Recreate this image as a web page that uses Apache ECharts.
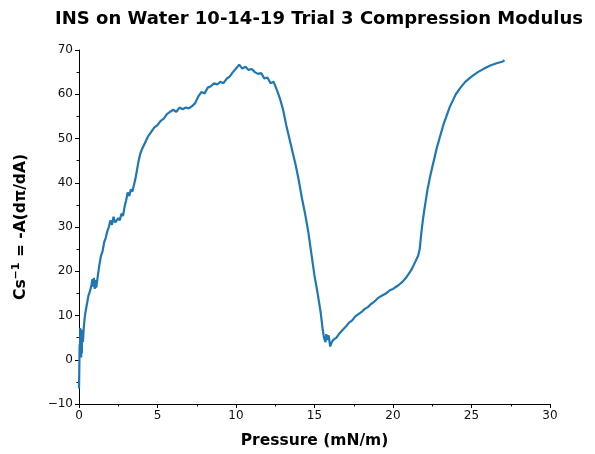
<!DOCTYPE html>
<html>
<head>
<meta charset="utf-8">
<script src="https://cdn.jsdelivr.net/npm/echarts@6/dist/echarts.min.js"></script>
<style>html,body{margin:0;padding:0;background:#fff;}#c{width:595px;height:454px;}</style>
</head>
<body>
<div id="c"></div>
<script>
var pressure = [0,0.02,0.04,0.06,0.08,0.1,0.12,0.14,0.16,0.18,0.2,0.25,0.3,0.35,
0.4,0.5,0.6,0.7,0.8,0.85,0.9,0.95,1.0,1.05,1.1,1.2,1.3,1.4,1.5,1.6,1.7,1.8,1.9,2.0,2.1,2.2,2.3,2.4,2.5,2.6,2.7,2.8,2.9,3.0,3.1,3.2,3.3,3.4,3.5,3.6,3.7,3.8,3.9,4.0,4.2,4.4,4.6,4.8,5.0,5.2,5.4,5.6,5.8,6.0,6.2,6.4,6.6,6.8,7.0,7.2,7.4,7.6,7.8,8.0,8.2,8.4,8.6,8.8,9.0,9.2,9.4,9.6,9.8,10.0,10.2,10.4,10.6,10.8,11.0,11.2,11.4,11.6,11.8,12.0,12.2,12.4,12.6,12.8,13.0,13.2,13.4,13.6,13.8,14.0,14.2,14.4,14.6,14.8,15.0,15.2,15.4,15.5,15.6,15.7,15.75,15.8,15.9,16.0,16.1,16.2,16.4,16.6,16.8,17.0,17.2,17.4,17.6,17.8,18.0,18.2,18.4,18.6,18.8,19.0,19.2,19.4,19.6,19.8,20.0,20.2,20.4,20.6,20.8,21.0,21.2,21.4,21.6,21.7,21.8,21.9,22.0,22.2,22.4,22.6,22.8,23.0,23.2,23.4,23.6,23.8,24.0,24.3,24.6,25.0,25.4,25.8,26.2,26.6,27.0,27.1];
var modulus = [-6.5,-2,3.5,1,7.2,2,6.5,0.5,6.8,1.5,6,4,7,9,
10.5,12.5,14.5,15.5,17,18.2,16.5,18.5,16,18,16.3,19,21.5,23.5,24.5,26.5,27.5,29,30,31.5,30.5,32.3,31,30.8,32,31.5,33,32.5,34.5,36,37.8,37,38.5,38,39.5,41,43,45,46.5,47.5,49,50.5,51.5,52.5,53,54,54.5,55.5,56,56.5,56,57,56.6,57,56.8,57.3,58,59.5,60.5,60.2,61.5,61.8,62.5,62.2,62.8,62.5,63.5,64,65,65.8,66.7,65.8,66.2,65.5,65.7,65,64.6,64.8,63.6,63.8,62.5,62.8,61,59,56.5,53,50,47,44,40.5,36.5,33,29,24,19,15,10.5,7.5,5,4,5.8,4.5,5.5,3,4,4.5,5,6,6.8,7.5,8.4,8.9,9.8,10.3,10.8,11.5,11.9,12.6,13.1,13.8,14.3,14.7,15.1,15.7,16.0,16.5,17.0,17.6,18.4,19.4,20.5,22,23.5,25,28.5,31.5,34,38.5,42,45,48,50.5,53,55,57,58.5,60,61.5,62.8,64,65,65.8,66.5,67,67.4,67.7];
var xTicks = [0,5,10,15,20,25,30];
var yTicks = [-10,0,10,20,30,40,50,60,70];

var data = pressure.map(function(p,i){return [p, modulus[i]];});
var fmt = function(v){ return String(v).replace('-', '\u2212'); };
var chart = echarts.init(document.getElementById('c'), null, {renderer:'canvas'});
chart.setOption({
  animation:false,
  backgroundColor:'#fff',
  title:{text:'INS on Water 10-14-19 Trial 3 Compression Modulus', left:314, top:5, textAlign:'center',
    textStyle:{fontFamily:'DejaVu Sans', fontWeight:'bold', fontSize:18, color:'#000'}},
  grid:{left:79, right:45, top:50, bottom:50, containLabel:false},
  xAxis:{type:'value', min:xTicks[0], max:xTicks[xTicks.length-1], interval:5,
    name:'Pressure (mN/m)', nameLocation:'middle', nameGap:29,
    nameTextStyle:{fontFamily:'DejaVu Sans', fontWeight:'bold', fontSize:15.5, color:'#000'},
    axisLine:{show:true, onZero:false, lineStyle:{color:'#000', width:1}},
    axisTick:{show:true, length:4, lineStyle:{color:'#000'}},
    minorTick:{show:true, splitNumber:2, length:2.5, lineStyle:{color:'#000'}},
    splitLine:{show:false},
    axisLabel:{fontFamily:'DejaVu Sans', fontSize:12, color:'#111', margin:6, formatter:fmt}},
  yAxis:{type:'value', min:yTicks[0], max:yTicks[yTicks.length-1], interval:10,
    name:'{a|Cs}{s|\u22121}{a| = -A(d\u03c0/dA)}', nameLocation:'middle', nameGap:48,
    nameTextStyle:{rich:{
      a:{fontFamily:'DejaVu Sans', fontWeight:'bold', fontSize:15.5, color:'#000'},
      s:{fontFamily:'DejaVu Sans', fontWeight:'bold', fontSize:11, color:'#000', verticalAlign:'top', padding:[0,0,9,0]}}},
    axisLine:{show:true, onZero:false, lineStyle:{color:'#000', width:1}},
    axisTick:{show:true, length:4, lineStyle:{color:'#000'}},
    minorTick:{show:true, splitNumber:2, length:2.5, lineStyle:{color:'#000'}},
    splitLine:{show:false},
    axisLabel:{fontFamily:'DejaVu Sans', fontSize:12, color:'#111', margin:6, formatter:fmt}},
  series:[{type:'line', data:data, showSymbol:false, symbol:'none',
    lineStyle:{color:'#1f77b4', width:2.2}, clip:true}]
});
</script>
</body>
</html>
